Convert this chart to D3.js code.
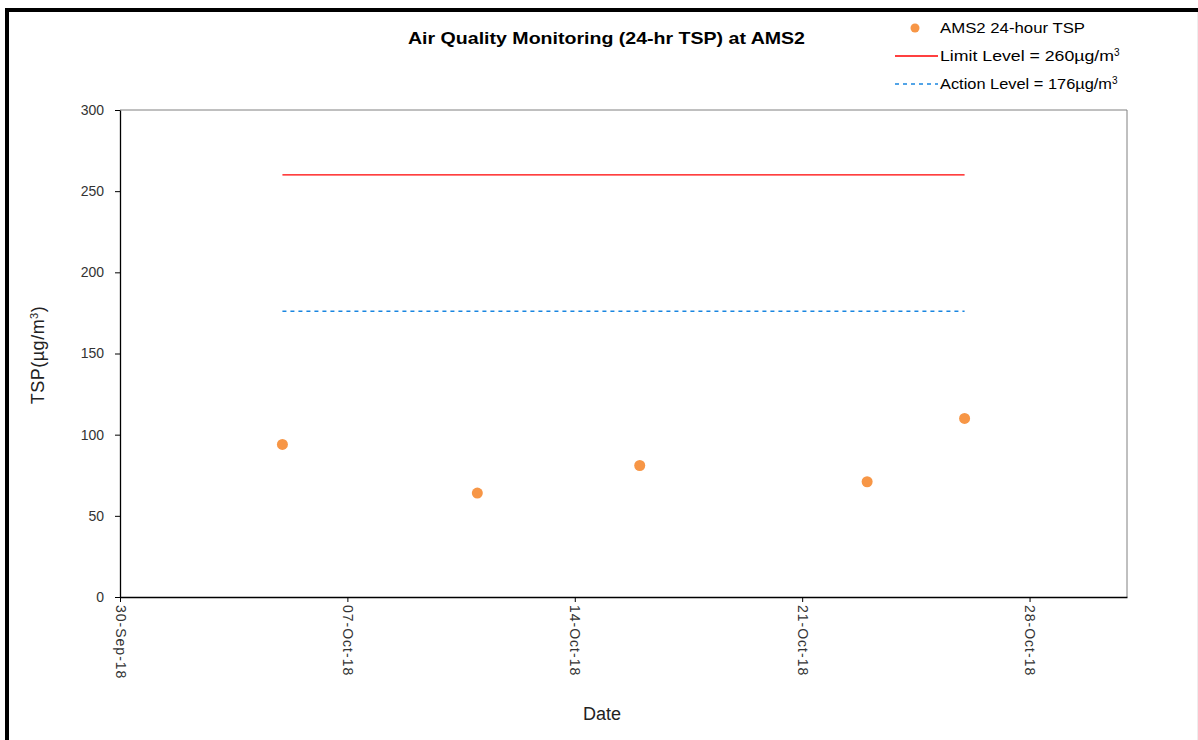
<!DOCTYPE html>
<html><head><meta charset="utf-8">
<script src="https://cdn.jsdelivr.net/npm/d3@7"></script>
<style>
body{margin:0;background:#fff;}
svg{display:block;font-family:"Liberation Sans",Arial,sans-serif;}
</style></head>
<body>
<svg id="c" width="1198" height="740"></svg>
<script>
const dates = ["2018-10-05","2018-10-11","2018-10-16","2018-10-23","2018-10-26"];
const tsp = [94, 64, 81, 71, 110];
const limitLevel = 260;
const actionLevel = 176;
const levelStart = "2018-10-05", levelEnd = "2018-10-26";
const xTicks = ["2018-09-30","2018-10-07","2018-10-14","2018-10-21","2018-10-28"];
const yTicks = [0,50,100,150,200,250,300];

const parse = d3.timeParse("%Y-%m-%d");
const svg = d3.select("#c");
const L=120, R=1127, T=110, B=597;
const x = d3.scaleTime().domain([parse("2018-09-30"), parse("2018-10-31")]).range([L, R]);
const y = d3.scaleLinear().domain([0,300]).range([B,T]);

// outer border
svg.append("rect").attr("x",0).attr("y",0).attr("width",1198).attr("height",740).attr("fill","#fff");
svg.append("line").attr("x1",5).attr("x2",1198).attr("y1",10).attr("y2",10).attr("stroke","#000").attr("stroke-width",4);
svg.append("line").attr("x1",7).attr("x2",7).attr("y1",8).attr("y2",740).attr("stroke","#000").attr("stroke-width",4);
svg.append("line").attr("x1",1197.5).attr("x2",1197.5).attr("y1",12).attr("y2",740).attr("stroke","#eee").attr("stroke-width",1);

// plot frame
svg.append("path").attr("d",`M${L},${T}H${R}V${B}`).attr("fill","none").attr("stroke","#808080").attr("stroke-width",1);

// axes
const yAxis = svg.append("g").attr("transform",`translate(${L},0)`)
  .call(d3.axisLeft(y).tickValues(yTicks).tickSize(5).tickPadding(11).tickSizeOuter(0));
const xAxis = svg.append("g").attr("transform",`translate(0,${B})`)
  .call(d3.axisBottom(x).tickValues(xTicks.map(parse)).tickFormat(d3.timeFormat("%d-%b-%y")).tickSize(5).tickSizeOuter(0));
[yAxis,xAxis].forEach(a=>{
  a.select(".domain").attr("stroke","#000").attr("stroke-width",1.3);
  a.selectAll(".tick line").attr("stroke","#000");
  a.selectAll("text").attr("fill","#333").style("font-size","14px").style("font-family","'Liberation Sans',Arial,sans-serif");
});
xAxis.selectAll("text").attr("transform","rotate(90)").attr("text-anchor","start")
  .attr("x",8).attr("y",0).attr("dy","0.35em").style("letter-spacing","1px");

// level lines
const blue = "#1a86e0";
svg.append("line").attr("x1",x(parse(levelStart))).attr("x2",x(parse(levelEnd)))
  .attr("y1",y(limitLevel)).attr("y2",y(limitLevel)).attr("stroke","#ff0000").attr("stroke-width",1.3);
svg.append("line").attr("x1",x(parse(levelStart))).attr("x2",x(parse(levelEnd)))
  .attr("y1",y(actionLevel)).attr("y2",y(actionLevel)).attr("stroke",blue).attr("stroke-width",1.6).attr("stroke-dasharray","4,4");

// points
svg.append("g").selectAll("circle").data(dates.map((d,i)=>({d:parse(d),v:tsp[i]}))).join("circle")
  .attr("cx",d=>x(d.d)).attr("cy",d=>y(d.v)).attr("r",5.5).attr("fill","#f79646");

// title
svg.append("text").attr("x",408).attr("y",44)
  .style("font-size","17px").style("font-weight","bold").attr("fill","#000")
  .attr("textLength",397).attr("lengthAdjust","spacingAndGlyphs")
  .text("Air Quality Monitoring (24-hr TSP) at AMS2");

// axis titles
const yl = svg.append("text").attr("transform","translate(44,355) rotate(-90)").attr("text-anchor","middle")
  .style("font-size","18px").style("letter-spacing","0.5px").attr("fill","#222");
yl.append("tspan").text("TSP(µg/m");
yl.append("tspan").attr("baseline-shift","super").style("font-size","11px").text("3");
yl.append("tspan").text(")");
svg.append("text").attr("x",602).attr("y",720).attr("text-anchor","middle").style("font-size","18px").attr("fill","#222").text("Date");

// legend
const lg = svg.append("g");
lg.append("circle").attr("cx",915).attr("cy",28).attr("r",4.5).attr("fill","#f79646");
lg.append("text").attr("x",940).attr("y",33).style("font-size","14px").attr("fill","#000")
  .attr("textLength",145).attr("lengthAdjust","spacingAndGlyphs").text("AMS2 24-hour TSP");
lg.append("line").attr("x1",895).attr("x2",938).attr("y1",56).attr("y2",56).attr("stroke","#ff0000").attr("stroke-width",1.3);
const t2 = lg.append("text").attr("x",940).attr("y",61).style("font-size","14px").attr("fill","#000");
t2.append("tspan").attr("textLength",174).attr("lengthAdjust","spacingAndGlyphs").text("Limit Level = 260µg/m");
t2.append("tspan").attr("baseline-shift","super").style("font-size","10px").text("3");
lg.append("line").attr("x1",895).attr("x2",938).attr("y1",84).attr("y2",84).attr("stroke",blue).attr("stroke-width",1.6).attr("stroke-dasharray","4,4");
const t3 = lg.append("text").attr("x",940).attr("y",89).style("font-size","14px").attr("fill","#000");
t3.append("tspan").attr("textLength",172).attr("lengthAdjust","spacingAndGlyphs").text("Action Level = 176µg/m");
t3.append("tspan").attr("baseline-shift","super").style("font-size","10px").text("3");
</script>
</body></html>
